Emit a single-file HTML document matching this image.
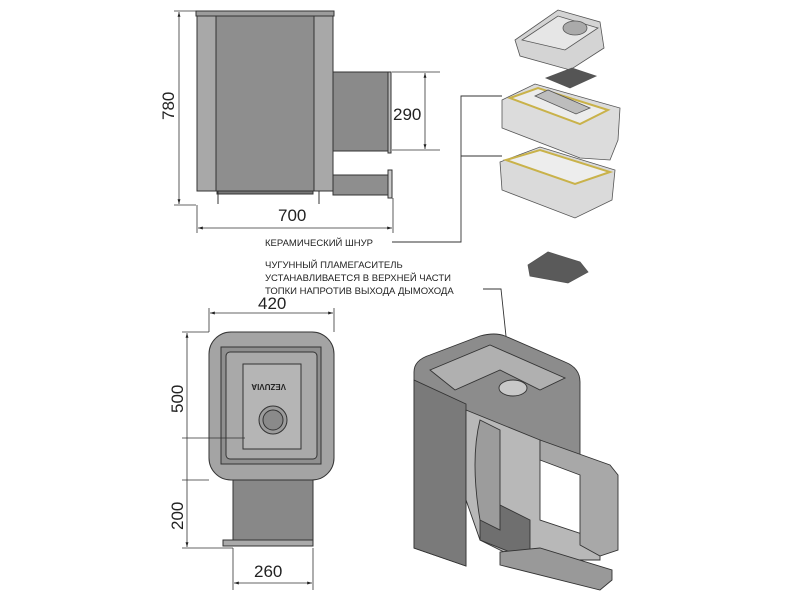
<!DOCTYPE html>
<html><head><meta charset="utf-8"><style>
html,body{margin:0;padding:0;background:#fff;width:800px;height:600px;overflow:hidden}
text{font-family:"Liberation Sans",sans-serif;fill:#222}
</style></head><body>
<svg width="800" height="600" viewBox="0 0 800 600" xmlns="http://www.w3.org/2000/svg">
<defs>
<marker id="a" viewBox="0 0 10 10" refX="10" refY="5" markerWidth="6" markerHeight="6" orient="auto-start-reverse"><path d="M0,2 L10,5 L0,8z" fill="#222"/></marker>
</defs>
<!-- SIDE VIEW -->
<g stroke="#333" stroke-width="1">
<rect x="197" y="16" width="136" height="175" fill="#9a9a9a"/>
<rect x="197" y="16" width="19" height="175" fill="#a8a8a8"/>
<rect x="314" y="16" width="19" height="175" fill="#a8a8a8"/>
<rect x="216" y="16" width="98" height="175" fill="#8e8e8e"/>
<rect x="196" y="11" width="138" height="5" fill="#9c9c9c"/>
<rect x="333" y="72" width="55" height="79" fill="#8a8a8a"/>
<rect x="388" y="72" width="3" height="81" fill="#bbb"/>
<rect x="333" y="175" width="57" height="20" fill="#8e8e8e"/>
<rect x="388" y="170" width="4" height="28" fill="#ccc"/>
<rect x="217" y="191" width="96" height="3" fill="#777"/>
<line x1="218" y1="191" x2="218" y2="204"/><line x1="319" y1="191" x2="319" y2="204"/>
</g>
<g stroke="#333" stroke-width="0.8" fill="none">
<line x1="174" y1="11" x2="196" y2="11"/><line x1="174" y1="205" x2="196" y2="205"/>
<line x1="179" y1="12" x2="179" y2="204" marker-start="url(#a)" marker-end="url(#a)"/>
<line x1="392" y1="72" x2="440" y2="72"/><line x1="392" y1="150" x2="440" y2="150"/>
<line x1="425" y1="73" x2="425" y2="149" marker-start="url(#a)" marker-end="url(#a)"/>
<line x1="197" y1="205" x2="197" y2="233"/><line x1="393" y1="198" x2="393" y2="233"/>
<line x1="198" y1="228" x2="392" y2="228" marker-start="url(#a)" marker-end="url(#a)"/>
</g>
<text x="0" y="0" font-size="17" transform="translate(174,120) rotate(-90)">780</text>
<text x="393" y="120" font-size="17">290</text>
<text x="278" y="221" font-size="17">700</text>
<!-- Labels -->
<text x="265" y="246" font-size="9.5">КЕРАМИЧЕСКИЙ ШНУР</text>
<text x="265" y="268" font-size="9.5">ЧУГУННЫЙ ПЛАМЕГАСИТЕЛЬ</text>
<text x="265" y="281" font-size="9.5">УСТАНАВЛИВАЕТСЯ В ВЕРХНЕЙ ЧАСТИ</text>
<text x="265" y="294" font-size="9.5">ТОПКИ НАПРОТИВ ВЫХОДА ДЫМОХОДА</text>
<g stroke="#333" stroke-width="0.9" fill="none">
<polyline points="392,242 461,242 461,96 502,96"/>
<line x1="461" y1="156" x2="502" y2="156"/>
<polyline points="483,289 501,289 517,440"/>
</g>
<!-- Exploded parts -->
<g stroke="#555" stroke-width="0.8">
<polygon points="515,40 558,10 600,22 604,48 570,70 520,56" fill="#d4d4d4"/>
<polygon points="522,40 558,16 598,28 565,50" fill="#e6e6e6"/>
<ellipse cx="575" cy="28" rx="12" ry="7" fill="#aaa"/>
<polygon points="546,78 572,68 596,76 570,88" fill="#555"/>
<polygon points="502,100 535,84 620,108 618,140 610,160 580,158 502,128" fill="#dcdcdc"/>
<polygon points="510,98 538,88 608,110 580,124" fill="#ececec" stroke="#c9b24a" stroke-width="2"/>
<polygon points="535,96 548,90 590,108 576,114" fill="#bdbdbd"/>
<polygon points="500,162 540,147 615,170 612,200 575,218 502,190" fill="#dadada"/>
<polygon points="506,160 540,150 610,172 575,184" fill="#ededed" stroke="#c9b24a" stroke-width="2"/>
<polygon points="528,265 548,252 580,262 588,272 568,283 530,276" fill="#5a5a5a"/>
</g>
<!-- FRONT VIEW -->
<g stroke="#333" stroke-width="1">
<rect x="233" y="478" width="80" height="68" fill="#888"/>
<rect x="209" y="332" width="125" height="148" rx="22" fill="#a4a4a4"/>
<rect x="221" y="347" width="100" height="117" fill="#8f8f8f"/>
<rect x="226" y="352" width="91" height="107" rx="4" fill="#a9a9a9"/>
<rect x="243" y="364" width="58" height="85" fill="#b5b5b5"/>
<circle cx="273" cy="420" r="14" fill="#9b9b9b"/>
<circle cx="273" cy="420" r="10" fill="#8a8a8a"/>
<rect x="223" y="540" width="90" height="6" fill="#aaa"/>
</g>
<text x="258" y="390" font-size="8" transform="rotate(180 272 387)" font-weight="bold">VEZUVIA</text>
<g stroke="#333" stroke-width="0.8" fill="none">
<line x1="209" y1="308" x2="209" y2="332"/><line x1="334" y1="308" x2="334" y2="332"/>
<line x1="210" y1="313" x2="333" y2="313" marker-start="url(#a)" marker-end="url(#a)"/>
<line x1="182" y1="332" x2="209" y2="332"/>
<line x1="182" y1="438" x2="245" y2="438"/><line x1="182" y1="480" x2="209" y2="480"/>
<line x1="182" y1="548" x2="233" y2="548"/>
<line x1="187" y1="333" x2="187" y2="547" marker-start="url(#a)" marker-end="url(#a)"/>
<line x1="233" y1="548" x2="233" y2="590"/><line x1="313" y1="548" x2="313" y2="590"/>
<line x1="234" y1="583" x2="312" y2="583" marker-start="url(#a)" marker-end="url(#a)"/>
</g>
<text x="258" y="309" font-size="17">420</text>
<text font-size="17" transform="translate(183,413) rotate(-90)">500</text>
<text font-size="17" transform="translate(183,530) rotate(-90)">200</text>
<text x="254" y="577" font-size="17">260</text>
<!-- 3D cutaway -->
<g stroke="#333" stroke-width="0.9">
<path d="M414,372 Q414,360 430,355 L480,336 Q495,332 505,336 L565,362 Q580,368 580,382 L580,460 L466,440 L466,566 L414,548z" fill="#8c8c8c"/>
<path d="M414,380 L466,404 L466,566 L414,548z" fill="#7a7a7a"/>
<path d="M430,370 L490,345 L565,378 L540,390 L500,370 L455,390z" fill="#b0b0b0"/>
<path d="M466,410 L540,440 L540,520 L600,540 L600,560 L520,560 L480,540 L466,500z" fill="#b8b8b8"/>
<path d="M540,440 L610,465 L618,475 L618,550 L600,556 L580,545 L580,475 L540,460z" fill="#a8a8a8"/>
<path d="M480,495 L530,520 L530,560 L480,540z" fill="#6f6f6f"/>
<path d="M500,565 L600,590 L612,580 L612,570 L540,548 L500,552z" fill="#999"/>
<ellipse cx="513" cy="388" rx="14" ry="8" fill="#c8c8c8"/>
<path d="M480,420 Q470,460 480,520 L500,530 L500,430z" fill="#9c9c9c"/>
</g>
</svg>
</body></html>
